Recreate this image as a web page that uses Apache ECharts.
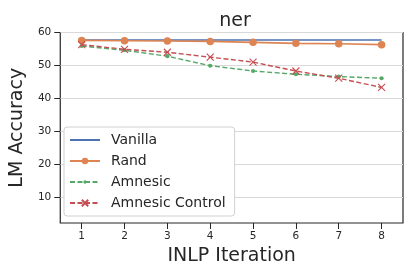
<!DOCTYPE html>
<html><head><meta charset="utf-8">
<script src="https://cdn.jsdelivr.net/npm/echarts@6/dist/echarts.min.js"></script>
<style>html,body{margin:0;padding:0;background:#fff}#c{width:415px;height:277px}</style>
</head><body><div id="c"></div>
<script>
const categories = ['1','2','3','4','5','6','7','8'];
const vanilla = [57.7,57.7,57.7,57.7,57.7,57.7,57.7,57.7];
const rand = [57.6,57.5,57.4,57.3,57.0,56.7,56.6,56.3];
const amnesic = [55.9,54.6,52.8,49.9,48.3,47.3,46.6,46.1];
const amnesicControl = [56.3,54.9,54.0,52.5,51.0,48.3,46.1,43.3];
const yTicks = [10,20,30,40,50,60];

const chart = echarts.init(document.getElementById('c'), null, {renderer:'canvas'});
const font = 'DejaVu Sans';
const X = 'path://M0,0L10,10M10,0L0,10';
const DOT = 'path://M0,0M10,10M5,2.4A2.6,2.6,0,1,1,5,7.6A2.6,2.6,0,1,1,5,2.4Z';
chart.setOption({
  animation:false,
  title:{text:'ner', left:230, top:7, textAlign:'center',
    textStyle:{fontFamily:font, fontSize:19, fontWeight:'normal', color:'#262626'}},
  grid:{left:57.5, right:12, top:32.5, bottom:54, show:true, borderColor:'#262626', borderWidth:1.2, backgroundColor:'transparent'},
  xAxis:{type:'category', data:categories, boundaryGap:true,
    name:'INLP Iteration', nameLocation:'middle', nameGap:24,
    nameTextStyle:{fontFamily:font, fontSize:19, color:'#262626'},
    axisLine:{show:false},
    axisTick:{show:true, alignWithLabel:true, length:6, lineStyle:{color:'#262626'}},
    axisLabel:{fontFamily:font, fontSize:10.5, color:'#262626', margin:8},
    splitLine:{show:false}},
  yAxis:{type:'value', min:2.1, max:60,
    name:'LM Accuracy', nameLocation:'middle', nameGap:24, nameRotate:90,
    nameTextStyle:{fontFamily:font, fontSize:19, color:'#262626'},
    axisLine:{show:false},
    axisTick:{show:true, length:6, customValues:yTicks, lineStyle:{color:'#262626'}},
    axisLabel:{fontFamily:font, fontSize:10.5, color:'#262626', margin:9, customValues:yTicks},
    splitLine:{show:true, lineStyle:{color:'#d9d9d9', width:1}}},
  legend:{left:64, top:127, orient:'vertical', itemWidth:30, itemHeight:8, itemGap:7,
    padding:[6,9,6,5], backgroundColor:'#fff', borderColor:'#d0d0d0', borderWidth:1, borderRadius:3,
    textStyle:{fontFamily:font, fontSize:14, color:'#262626', padding:[0,0,0,6]},
    data:[{name:'Vanilla', itemStyle:{opacity:0}},'Rand','Amnesic','Amnesic Control']},
  series:[
    {name:'Vanilla', type:'line', data:vanilla, showSymbol:false, symbol:'none',
      lineStyle:{color:'#4C72B0', width:1.6}, itemStyle:{color:'#4C72B0'}, z:2},
    {name:'Rand', type:'line', data:rand, symbol:'circle', symbolSize:7.5,
      lineStyle:{color:'#DD8452', width:1.6}, itemStyle:{color:'#DD8452'}, z:3},
    {name:'Amnesic', type:'line', data:amnesic, symbol:DOT, symbolSize:8,
      lineStyle:{color:'#55A868', width:1.4, type:[5,2.5]}, itemStyle:{color:'#55A868'}, z:4},
    {name:'Amnesic Control', type:'line', data:amnesicControl, symbol:X, symbolSize:7,
      lineStyle:{color:'#C44E52', width:1.4, type:[5,2.5]}, itemStyle:{color:'#C44E52', borderColor:'#C44E52', borderWidth:1.1}, z:5}
  ]
});
</script></body></html>
